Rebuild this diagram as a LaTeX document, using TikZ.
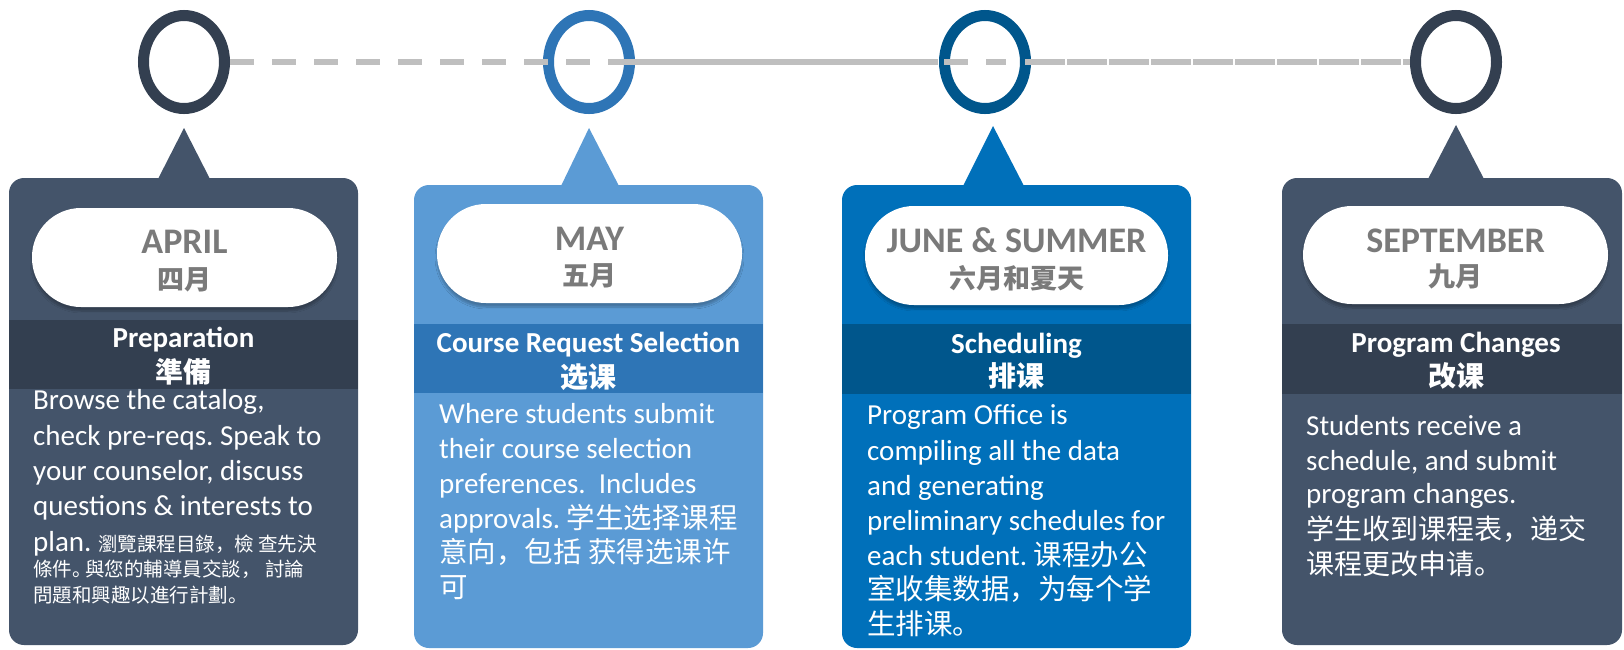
\documentclass[tikz,border=0pt]{standalone}
\usepackage{fontspec}
\setmainfont{Carlito}
\newfontfamily\cjk{Noto Sans CJK SC}
\usetikzlibrary{shapes.geometric,shadows.blur}
\definecolor{slate}{HTML}{44546A}
\definecolor{slatedk}{HTML}{333F50}
\definecolor{lblue}{HTML}{5B9BD5}
\definecolor{lbluedk}{HTML}{2E75B6}
\definecolor{mblue}{HTML}{0070BA}
\definecolor{mbluedk}{HTML}{00568C}
\definecolor{pillgrey}{HTML}{7A7A7A}
\definecolor{linegrey}{HTML}{BFBFBF}
\frenchspacing
\tikzset{
  ring/.style={ellipse, draw, line width=11pt, minimum width=81pt, minimum height=93pt, inner sep=0pt},
  tl/.style={draw=linegrey, line width=5.3pt},
  pill/.style={fill=white, rounded corners=49pt, blur shadow={shadow xshift=0pt, shadow yshift=-4pt, shadow opacity=25, shadow blur steps=6}},
  pilltxt/.style={anchor=base, text=pillgrey, font=\bfseries\fontsize{36}{40}\selectfont, inner sep=0pt},
  pillcjk/.style={anchor=base, text=pillgrey, font=\cjk\bfseries\fontsize{27}{32}\selectfont, inner sep=0pt},
  headtxt/.style={anchor=base, text=white, font=\bfseries\fontsize{29}{33}\selectfont, inner sep=0pt},
  headcjk/.style={anchor=base, text=white, font=\cjk\bfseries\fontsize{28}{32}\selectfont, inner sep=0pt},
  body/.style={anchor=base west, text=white, font=\fontsize{29}{35}\selectfont, inner sep=0pt},
  bodycjk/.style={anchor=base west, text=white, font=\cjk\fontsize{28.5}{35}\selectfont, inner sep=0pt},
  smallcjk/.style={anchor=base west, text=white, font=\cjk\fontsize{19.5}{24}\selectfont, inner sep=0pt},
}
\begin{document}
\begin{tikzpicture}[x=1pt,y=-1pt]
\useasboundingbox (0,0) rectangle (1624,649);
\clip (0,0) rectangle (1624,649);
\fill[white] (0,0) rectangle (1624,649);

% timeline circles
\node[ring, draw=slatedk] (c1) at (184,62) {};
\node[ring, draw=lbluedk] (c2) at (589,62) {};
\node[ring, draw=mbluedk] (c3) at (985,62) {};
\node[ring, draw=slatedk] (c4) at (1456,62) {};

% timeline line
\coordinate (dA) at (1006,62);
\coordinate (sB0) at (630,62);
\coordinate (sB1) at (938,62);
\coordinate (sC0) at (1025,62);
\draw[tl, dash pattern=on 24pt off 18pt] (c1.east) -- (dA);
\draw[tl, dash pattern=on 40pt off 2pt] (sB0) -- (sB1);
\draw[tl, dash pattern=on 40pt off 2pt] (sC0) -- (c4.west);

% ---------- box 1 ----------
\fill[slate, rounded corners=15pt] (9,178) rectangle (358,645);
\fill[slate] (158,179) -- (184,128) -- (210,179) -- cycle;
\fill[slatedk] (9,320) rectangle (358,389);
\fill[pill] (32,208) rectangle (337,307);
\node[pilltxt] (m1) at (184.5,253) {APRIL};
\node[pillcjk] (m1z) at (184.5,289) {四月};
\node[headtxt] (h1) at (183.5,347) {Preparation};
\node[headcjk] (h1z) at (183.5,382) {準備};
\node[body] (t1a) at (33,409) {Browse the catalog,};
\node[body] (t1b) at (33,445) {check pre-reqs. Speak to};
\node[body] (t1c) at (33,480) {your counselor, discuss};
\node[body] (t1d) at (33,515) {questions \& interests to};
\node[body] (t1e) at (33,551) {plan. {\cjk\fontsize{19.5}{24}\selectfont 瀏覽課程目錄，檢 查先決}};
\node[smallcjk] (t1f) at (33,576) {條件\makebox[13pt][l]{。}與您的輔導員交談， 討論};
\node[smallcjk] (t1g) at (33,602) {問題和興趣以進行計劃。};

% ---------- box 2 ----------
\fill[lblue, rounded corners=15pt] (414,185) rectangle (763,648);
\fill[lblue] (561,186) -- (589,128) -- (619,186) -- cycle;
\fill[lbluedk] (414,324) rectangle (763,393);
\fill[pill] (437,204) rectangle (742,303);
\node[pilltxt] (m2) at (589.5,250) {MAY};
\node[pillcjk] (m2z) at (589.5,285) {五月};
\node[headtxt] (h2) at (588.5,352) {Course Request Selection};
\node[headcjk] (h2z) at (588.5,387) {选课};
\node[body] (t2a) at (439,423) {Where students submit};
\node[body] (t2b) at (439,458) {their course selection};
\node[body] (t2c) at (439,493) {preferences.\ \ Includes};
\node[body] (t2d) at (439,528) {approvals. {\cjk\fontsize{28.5}{35}\selectfont 学生选择课程}};
\node[bodycjk] (t2e) at (439,562) {意向，包括 获得选课许};
\node[bodycjk] (t2f) at (439,597) {可};

% ---------- box 3 ----------
\fill[mblue, rounded corners=15pt] (842,185) rectangle (1191,648);
\fill[mblue] (963,186) -- (993,126) -- (1024,186) -- cycle;
\fill[mbluedk] (842,324) rectangle (1191,394);
\fill[pill] (865,206) rectangle (1168,305);
\node[pilltxt] (m3) at (1016.5,252) {JUNE \& SUMMER};
\node[pillcjk] (m3z) at (1016.5,288) {六月和夏天};
\node[headtxt] (h3) at (1016.5,353) {Scheduling};
\node[headcjk] (h3z) at (1016.5,386) {排课};
\node[body] (t3a) at (867,424) {Program Office is};
\node[body] (t3b) at (867,460) {compiling all the data};
\node[body] (t3c) at (867,495) {and generating};
\node[body] (t3d) at (867,530) {preliminary schedules for};
\node[body] (t3e) at (867,565) {each student. {\cjk\fontsize{28.5}{35}\selectfont 课程办公}};
\node[bodycjk] (t3f) at (867,599) {室收集数据，为每个学};
\node[bodycjk] (t3g) at (867,634) {生排课。};

% ---------- box 4 ----------
\fill[slate, rounded corners=15pt] (1282,178) rectangle (1622,645);
\fill[slate] (1428,179) -- (1456,125) -- (1484,179) -- cycle;
\fill[slatedk] (1282,324) rectangle (1622,394);
\fill[pill] (1303,206) rectangle (1608,304);
\node[pilltxt] (m4) at (1455.5,252) {SEPTEMBER};
\node[pillcjk] (m4z) at (1455.5,286) {九月};
\node[headtxt] (h4) at (1456,352) {Program Changes};
\node[headcjk] (h4z) at (1456,386) {改课};
\node[body] (t4a) at (1306,435) {Students receive a};
\node[body] (t4b) at (1306,470) {schedule, and submit};
\node[body] (t4c) at (1306,503) {program changes.};
\node[bodycjk, font=\cjk\fontsize{28}{35}\selectfont] (t4d) at (1306,539) {学生收到课程表，递交};
\node[bodycjk, font=\cjk\fontsize{28}{35}\selectfont] (t4e) at (1306,574) {课程更改申请。};
\end{tikzpicture}
\end{document}
